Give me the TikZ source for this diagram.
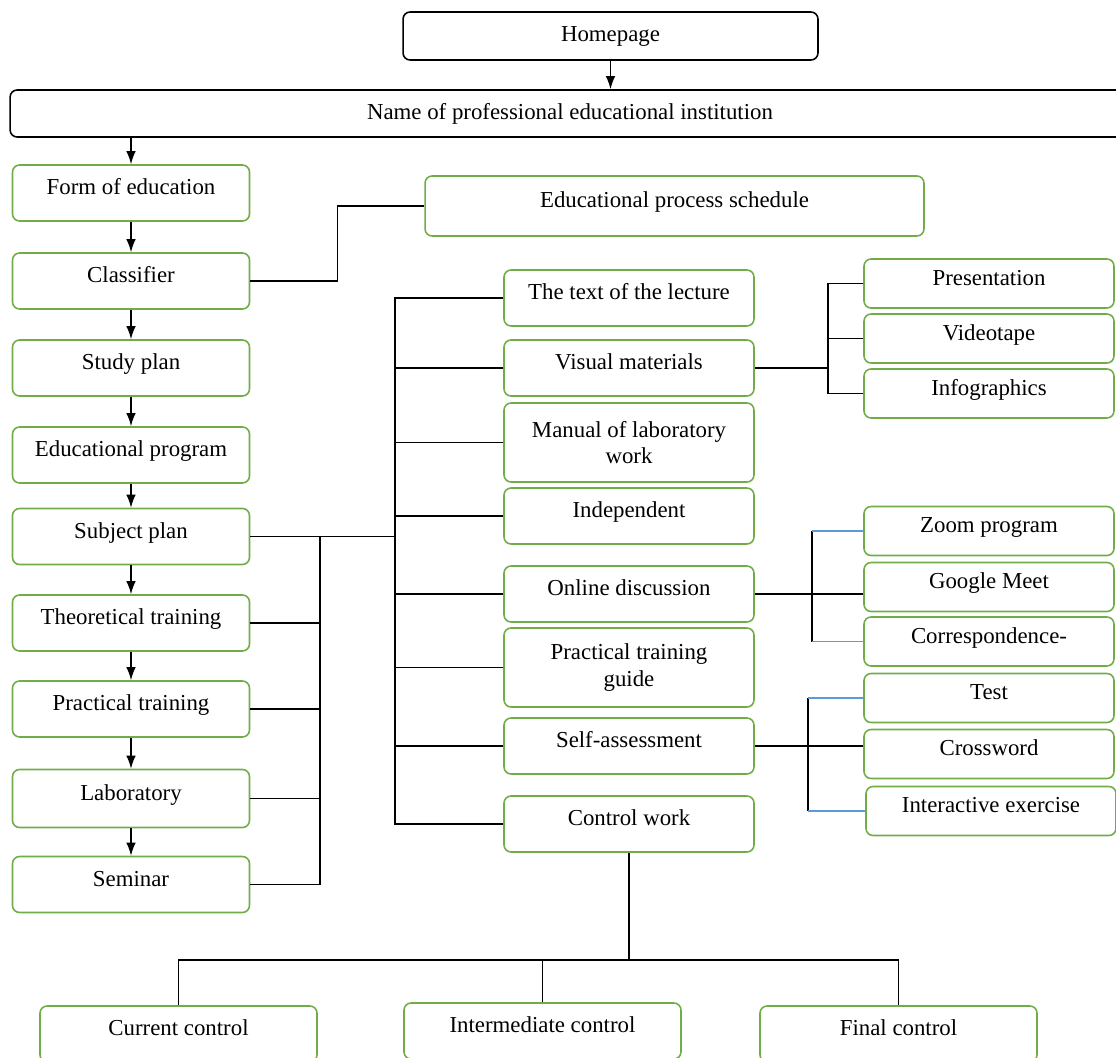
\documentclass[tikz,border=0pt]{standalone}
\usepackage{fontspec}
\setmainfont{Liberation Serif}
\usepackage{tikz}
\usetikzlibrary{arrows.meta}

\definecolor{boxgreen}{HTML}{70AD47}
\definecolor{linkblue}{HTML}{5B9BD5}

\begin{document}
\begin{tikzpicture}[x=0.02cm, y=-0.02cm,
                    font=\fontsize{13}{15.2}\selectfont,
                    blackbox/.style={draw, line width=0.9pt, rounded corners=4pt, align=center},
                    greenbox/.style={draw=boxgreen, line width=0.9pt, rounded corners=4pt, align=center},
                    oneline/.style={greenbox, text height=0.7em, text depth=0.5em},
                    link/.style={line width=0.85pt},
                    bluelink/.style={line width=0.85pt, draw=linkblue},
                    flow/.style={line width=0.85pt, -{Latex[length=7.5pt, width=5.5pt]}}]
                      \useasboundingbox (0,0) rectangle (1116,1058);

                      \node[blackbox, minimum width=8.3cm, minimum height=0.96cm] (home) at (610.5, 36) {Homepage};
                      \node[blackbox, minimum width=22.4cm, minimum height=0.94cm] (name) at (570, 113.5) {Name of professional educational institution};

                      % left column
                      \node[oneline, minimum width=4.74cm, minimum height=1.12cm] (form) at (131, 193) {Form of education};
                      \node[oneline, minimum width=4.74cm, minimum height=1.12cm] (classifier) at (131, 281) {Classifier};
                      \node[oneline, minimum width=4.74cm, minimum height=1.12cm] (studyplan) at (131, 368) {Study plan};
                      \node[oneline, minimum width=4.74cm, minimum height=1.12cm] (eduprog) at (131, 455) {Educational program};
                      \node[oneline, minimum width=4.74cm, minimum height=1.12cm] (subject) at (131, 536.5) {Subject plan};
                      \node[oneline, minimum width=4.74cm, minimum height=1.12cm] (theory) at (131, 623) {Theoretical training};
                      \node[oneline, minimum width=4.74cm, minimum height=1.12cm] (practice) at (131, 709) {Practical training};
                      \node[oneline, minimum width=4.74cm, minimum height=1.16cm] (lab) at (131, 798.5) {Laboratory};
                      \node[oneline, minimum width=4.74cm, minimum height=1.12cm] (seminar) at (131, 884.5) {Seminar};

                      \node[oneline, minimum width=9.98cm, minimum height=1.2cm] (schedule) at (674.5, 206) {Educational process schedule};

                      % middle column
                      \node[oneline, minimum width=5cm, minimum height=1.12cm] (lecture) at (629, 298) {The text of the lecture};
                      \node[oneline, minimum width=5cm, minimum height=1.12cm] (visual) at (629, 368) {Visual materials};
                      \node[greenbox, minimum width=5cm, minimum height=1.58cm] (manual) at (629, 442.5) {Manual of laboratory\\work};
                      \node[oneline, minimum width=5cm, minimum height=1.12cm] (indep) at (629, 516) {Independent};
                      \node[oneline, minimum width=5cm, minimum height=1.12cm] (online) at (629, 594) {Online discussion};
                      \node[greenbox, minimum width=5cm, minimum height=1.58cm] (guide) at (629, 667.5) {Practical training\\guide};
                      \node[oneline, minimum width=5cm, minimum height=1.12cm] (selfass) at (629, 746) {Self-assessment};
                      \node[oneline, minimum width=5cm, minimum height=1.12cm] (control) at (629, 824) {Control work};

                      % right column
                      \node[oneline, minimum width=5cm, minimum height=0.98cm] (pres) at (989, 283.5) {Presentation};
                      \node[oneline, minimum width=5cm, minimum height=0.98cm] (video) at (989, 338.5) {Videotape};
                      \node[oneline, minimum width=5cm, minimum height=0.98cm] (info) at (989, 393.5) {Infographics};
                      \node[oneline, minimum width=5cm, minimum height=0.98cm] (zoom) at (989, 531) {Zoom program};
                      \node[oneline, minimum width=5cm, minimum height=0.98cm] (meet) at (989, 587) {Google Meet};
                      \node[oneline, minimum width=5cm, minimum height=0.98cm] (corresp) at (989, 641.5) {Correspondence-};
                      \node[oneline, minimum width=5cm, minimum height=0.98cm] (test) at (989, 698) {Test};
                      \node[oneline, minimum width=5cm, minimum height=0.98cm] (cross) at (989, 754) {Crossword};
                      \node[oneline, minimum width=5cm, minimum height=0.98cm] (interact) at (991, 811) {Interactive exercise};

                      % bottom row
                      \node[oneline, minimum width=5.54cm, minimum height=1.12cm] (current) at (178.5, 1034) {Current control};
                      \node[oneline, minimum width=5.54cm, minimum height=1.12cm] (inter) at (542.5, 1031) {Intermediate control};
                      \node[oneline, minimum width=5.54cm, minimum height=1.12cm] (final) at (898.5, 1034) {Final control};

                      \coordinate (busL) at (320, 0);
                      \coordinate (busM) at (395, 0);
                      \coordinate (busV) at (828, 0);
                      \coordinate (busO) at (812, 0);
                      \coordinate (busS) at (808, 0);

                      \draw[flow] (home.south) -- (home.south |- name.north);
                      \draw[flow] (form.north |- name.south) -- (form.north);
                      \foreach \a/\b in {form/classifier, classifier/studyplan, studyplan/eduprog, eduprog/subject,
                                         subject/theory, theory/practice, practice/lab, lab/seminar}
                        \draw[flow] (\a) -- (\b);

                      \draw[link] (classifier.east) -- ++(87,0) |- (schedule.west);

                      \draw[link] (subject.east) -- (subject.east -| busM);
                      \draw[link] (subject.east -| busL) |- (seminar.east);
                      \foreach \n in {theory, practice, lab}
                        \draw[link] (\n.east) -- (\n.east -| busL);

                      \draw[link] (lecture.west) -- (lecture.west -| busM) |- (control.west);
                      \foreach \n in {visual, manual, indep, online, guide, selfass}
                        \draw[link] (\n.west) -- (\n.west -| busM);

                      \draw[link] (pres.west) -- (pres.west -| busV) |- (info.west);
                      \draw[link] (visual.east) -- (visual.east -| busV);
                      \draw[link] (video.west) -- (video.west -| busV);

                      \draw[link] (online.east) -- (online.east -| meet.west);
                      \draw[link] (zoom.west -| busO) -- (corresp.west -| busO);
                      \draw[bluelink] (zoom.west -| busO) -- (zoom.west);
                      \draw[bluelink] (corresp.west -| busO) -- (corresp.west);

                      \draw[link] (selfass.east) -- (selfass.east -| cross.west);
                      \draw[link] (test.west -| busS) -- (interact.west -| busS);
                      \draw[bluelink] (test.west -| busS) -- (test.west);
                      \draw[bluelink] (interact.west -| busS) -- (interact.west);

                      \draw[link] (control.south) -- ++(0,107) coordinate (hub);
                      \draw[link] (current.north) |- (hub) -| (final.north);
                      \draw[link] (inter.north) -- (inter.north |- hub);
                  \end{tikzpicture}
\end{document}
